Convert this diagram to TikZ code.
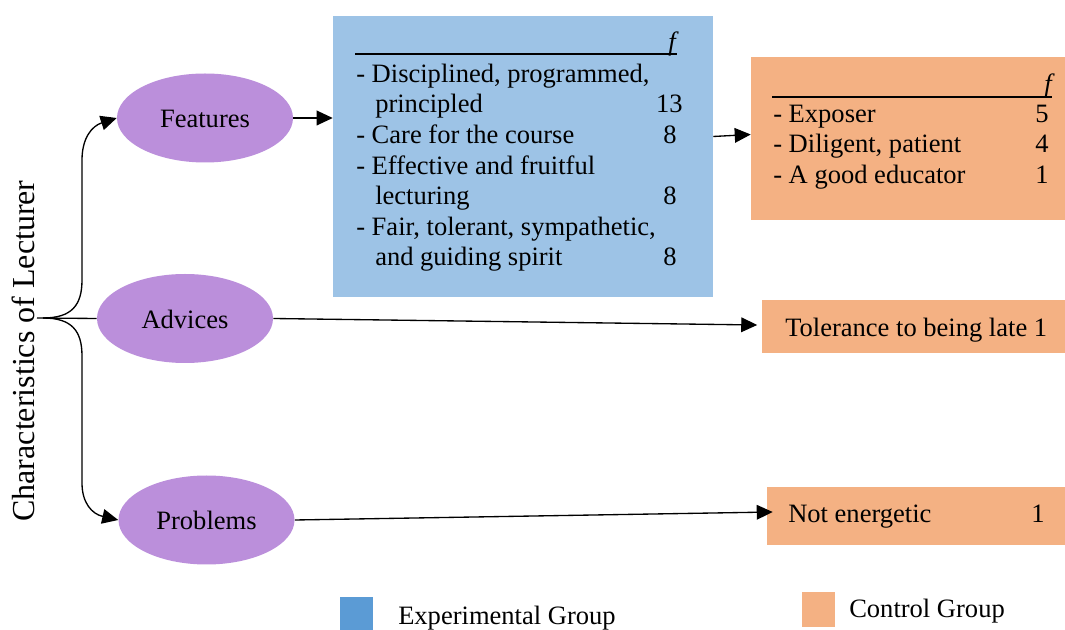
\documentclass[tikz,border=0pt]{standalone}
\usepackage{fontspec}
\setmainfont{Liberation Serif}
\usetikzlibrary{arrows.meta,shapes.geometric,calc}

\definecolor{expblue}{RGB}{157,195,230}
\definecolor{expkey}{RGB}{91,155,213}
\definecolor{ctrlorange}{RGB}{244,177,131}
\definecolor{catpurple}{RGB}{187,143,219}

\tikzset{
  txt/.style={inner sep=0pt, font=\fontsize{19.9pt}{23pt}\selectfont},
  title/.style={inner sep=0pt, font=\fontsize{24pt}{28pt}\selectfont},
  cat/.style={ellipse, fill=catpurple, draw=none, inner sep=0pt,
    minimum width=132pt, minimum height=66.75pt,
    text height=15pt, text depth=0pt, font=\fontsize{19.9pt}{23pt}\selectfont},
  panel/.style={rectangle, draw=none, inner sep=0pt},
  link/.style={line width=1pt, -{Triangle[length=12pt,width=11pt]}},
  plain/.style={line width=1pt},
}

\begin{document}
\begin{tikzpicture}[x=0.75pt,y=-0.75pt]
\useasboundingbox (0,0) rectangle (1065,630);

% vertical title
\node[title, rotate=90] (title) at (23,351) {Characteristics of Lecturer};

% category ellipses
\node[cat] (feat) at (205,118) {Features};
\node[cat] (adv)  at (185,318.5) {Advices};
\node[cat] (prob) at (206.5,520) {Problems};

% result panels
\node[panel, fill=expblue, minimum width=285pt, minimum height=210.75pt] (exp) at (523,156.5) {};
\node[panel, fill=ctrlorange, minimum width=235.5pt, minimum height=122.25pt] (ctrlA) at (908,138.5) {};
\node[panel, fill=ctrlorange, minimum width=228pt, minimum height=39.75pt] (ctrlB) at (913.5,327) {};
\node[panel, fill=ctrlorange, minimum width=223.5pt, minimum height=43.5pt] (ctrlC) at (916,516) {};

% experimental group list
\coordinate (eL) at (355,54);
\coordinate (eR) at (677,54);
\draw[plain] (eL) -- (eR);
\node[txt, anchor=base east] (ef) at (676,51) {\itshape f};
\node[txt, anchor=base west] (e1) at (356,83) {- Disciplined, programmed,};
\node[txt, anchor=base west] (e2) at (375,113) {principled};
\node[txt, anchor=base east] (n2) at (683,113) {13};
\node[txt, anchor=base west] (e3) at (356,144) {- Care for the course};
\node[txt, anchor=base east] (n3) at (677,144) {8};
\node[txt, anchor=base west] (e4) at (356,175) {- Effective and fruitful};
\node[txt, anchor=base west] (e5) at (375,205) {lecturing};
\node[txt, anchor=base east] (n5) at (677,205) {8};
\node[txt, anchor=base west] (e6) at (356,236) {- Fair, tolerant, sympathetic,};
\node[txt, anchor=base west] (e7) at (375,266) {and guiding spirit};
\node[txt, anchor=base east] (n7) at (677,266) {8};

% control group list
\coordinate (cL) at (772,97);
\coordinate (cR) at (1052,97);
\draw[plain] (cL) -- (cR);
\node[txt, anchor=base east] (cf) at (1052,93) {\itshape f};
\node[txt, anchor=base west] (c1) at (773,123) {- Exposer};
\node[txt, anchor=base east] (m1) at (1049,123) {5};
\node[txt, anchor=base west] (c2) at (773,153) {- Diligent, patient};
\node[txt, anchor=base east] (m2) at (1049,153) {4};
\node[txt, anchor=base west] (c3) at (773,184) {- A good educator};
\node[txt, anchor=base east] (m3) at (1049,184) {1};

\node[txt, anchor=base west] (b1) at (785,337) {Tolerance to being late 1};
\node[txt, anchor=base west] (d1) at (788,523) {Not energetic};
\node[txt, anchor=base east] (d2) at (1045,523) {1};

% branching brace from the title
\coordinate (br) at (43,318);
\coordinate (brs) at (37,318);
\draw[plain] (brs) -- (adv.west);
\draw[link] (br) .. controls (72,318) and (82,305) .. (82,280)
  -- (82,160) .. controls (82,138) and (92,126) .. (feat.west);
\draw[link] (br) .. controls (72,318) and (82,331) .. (82,356)
  -- (82,483) .. controls (82,503) and (92,514) .. (prob.west);

% connectors
\draw[link] (feat.east) -- (feat.east -| exp.west);
\draw[link] ($(exp.east)+(0,-20)$) -- ($(ctrlA.west)+(0,-4)$);
\draw[link] (adv.east) -- ($(ctrlB.west)+(-4,-2)$);
\draw[link] (prob.east) -- ($(ctrlC.west)+(6,-4)$);

% legend
\node[panel, fill=expkey, minimum width=24.75pt, minimum height=26.25pt] (keyE) at (356.5,614.5) {};
\node[txt, anchor=base west] (keyEt) at (398,625) {Experimental Group};
\node[panel, fill=ctrlorange, minimum width=24.75pt, minimum height=26.25pt] (keyC) at (818.5,609.5) {};
\node[txt, anchor=base west] (keyCt) at (849,618) {Control Group};
\end{tikzpicture}
\end{document}
